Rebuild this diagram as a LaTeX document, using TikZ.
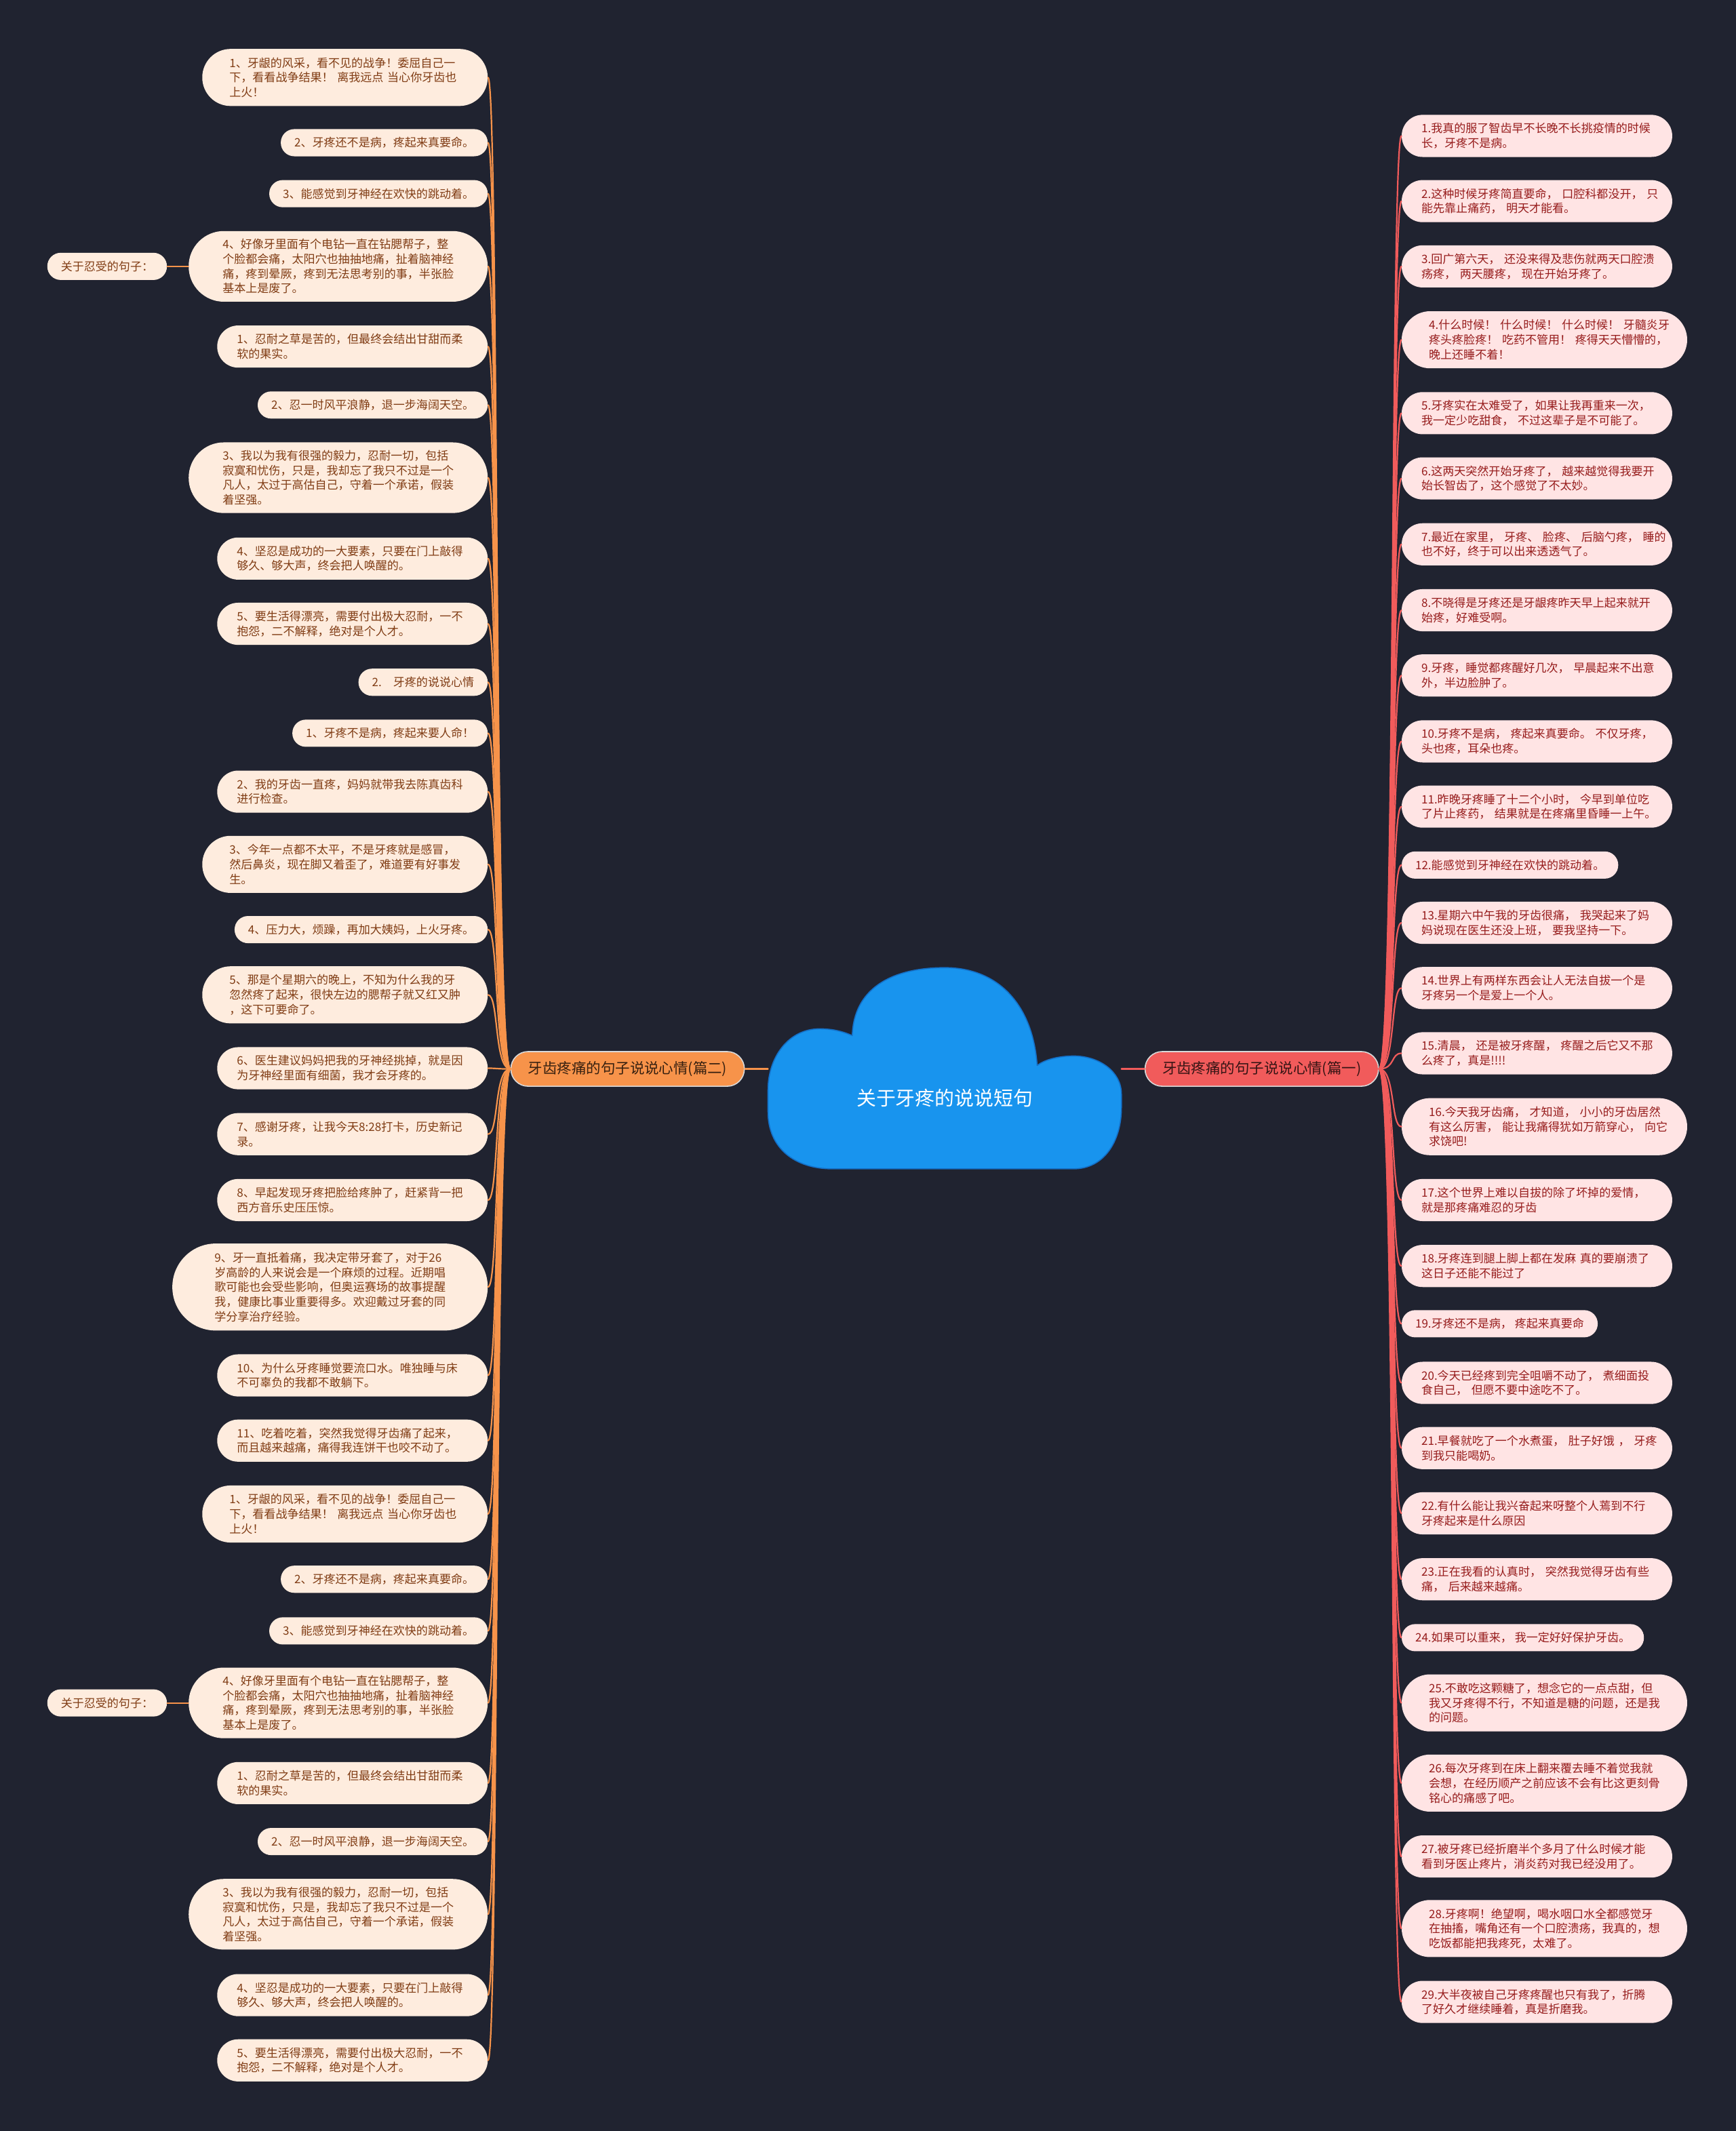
\documentclass[tikz,border=0pt]{standalone}
\usepackage{fontspec}
\newfontfamily\cjk{Noto Sans CJK SC}
\definecolor{bgnavy}{RGB}{32,35,48}
\definecolor{cloudblue}{RGB}{24,148,238}
\definecolor{cloudedge}{RGB}{20,112,200}
\definecolor{trunkorange}{RGB}{247,147,74}
\definecolor{trunkred}{RGB}{241,91,91}
\definecolor{leafpeach}{RGB}{254,236,222}
\definecolor{leafbrown}{RGB}{128,60,20}
\definecolor{leafpink}{RGB}{255,228,228}
\definecolor{leafred}{RGB}{150,28,28}
\begin{document}
\begin{tikzpicture}[x=1pt,y=-1pt,line cap=round,line join=round,
  leafbase/.style={rectangle,inner ysep=0pt,align=left,
    font=\cjk\fontsize{8.5}{10.8}\selectfont},
  lleaf/.style={leafbase,fill=leafpeach,text=leafbrown,anchor=east},
  rleaf/.style={leafbase,fill=leafpink,text=leafred,anchor=west},
  rows1/.style={minimum height=20pt,inner xsep=10pt,rounded corners=9.9pt},
  rows2/.style={minimum height=31pt,text width=170pt,inner xsep=14.5pt,rounded corners=15.4pt},
  rows3/.style={minimum height=42pt,text width=170pt,inner xsep=20pt,rounded corners=20.9pt},
  rows4/.style={minimum height=52pt,text width=170pt,inner xsep=25pt,rounded corners=25.9pt},
  rows5/.style={minimum height=64pt,text width=170pt,inner xsep=31pt,rounded corners=31.9pt},
  trunk/.style={rectangle,minimum height=25.5pt,inner xsep=12.7pt,inner ysep=0pt,
    rounded corners=12.6pt,draw=white!85!black,line width=0.8pt,
    font=\cjk\fontsize{10.7}{12}\selectfont},
  lline/.style={draw=trunkorange,line width=1.1pt},
  rline/.style={draw=trunkred,line width=1.1pt}]
  \useasboundingbox (0,0) rectangle (1277,1568);
  \fill[bgnavy] (0,0) rectangle (1277,1568);

  % centre cloud
  \fill[cloudblue,draw=cloudedge,line width=0.8pt] (612,860) -- (790,860)
    .. controls (812,860) and (825,840) .. (825,815) -- (825,805)
    .. controls (825,788) and (808,777) .. (790,777)
    .. controls (778,777) and (768,780) .. (763,784)
    .. controls (760,740) and (735,712) .. (695,712)
    .. controls (655,712) and (628,728) .. (627,762)
    .. controls (618,758) and (610,757) .. (603,757)
    .. controls (580,757) and (565,778) .. (565,802) -- (565,818)
    .. controls (565,845) and (585,860) .. (612,860) -- cycle;
  \node[text=white,font=\cjk\fontsize{14.4}{16}\selectfont] (root) at (695,808) {关于牙疼的说说短句};
  \coordinate (rootw) at (565,786.5);
  \coordinate (roote) at (825,786.5);

  \node[trunk,fill=trunkorange,text=black!78!trunkorange,anchor=east] (two) at (548,786.5) {牙齿疼痛的句子说说心情(篇二)};
  \node[trunk,fill=trunkred,text=black!78!trunkred,anchor=west] (one) at (842,786.5) {牙齿疼痛的句子说说心情(篇一)};
  \draw[lline] (rootw) -- (two.east);
  \draw[rline] (roote) -- (one.west);

  % left leaves
  \node[lleaf,rows3] (l1) at (359,57) {1、牙龈的风采，看不见的战争！委屈自己一\\下，看看战争结果！~离我远点~当心你牙齿也\\上火！};
  \node[lleaf,rows1] (l2) at (359,105) {2、牙疼还不是病，疼起来真要命。};
  \node[lleaf,rows1] (l3) at (359,142.5) {3、能感觉到牙神经在欢快的跳动着。};
  \node[lleaf,rows4] (l4) at (359,196) {4、好像牙里面有个电钻一直在钻腮帮子，整\\个脸都会痛，太阳穴也抽抽地痛，扯着脑神经\\痛，疼到晕厥，疼到无法思考别的事，半张脸\\基本上是废了。};
  \node[lleaf,rows1] (sideA) at (123,196) {关于忍受的句子：};
  \node[lleaf,rows2] (l5) at (359,255) {1、忍耐之草是苦的，但最终会结出甘甜而柔\\软的果实。};
  \node[lleaf,rows1] (l6) at (359,298) {2、忍一时风平浪静，退一步海阔天空。};
  \node[lleaf,rows4] (l7) at (359,351.5) {3、我以为我有很强的毅力，忍耐一切，包括\\寂寞和忧伤，只是，我却忘了我只不过是一个\\凡人，太过于高估自己，守着一个承诺，假装\\着坚强。};
  \node[lleaf,rows2] (l8) at (359,411) {4、坚忍是成功的一大要素，只要在门上敲得\\够久、够大声，终会把人唤醒的。};
  \node[lleaf,rows2] (l9) at (359,459) {5、要生活得漂亮，需要付出极大忍耐，一不\\抱怨，二不解释，绝对是个人才。};
  \node[lleaf,rows1] (l10) at (359,502) {2.\hspace{1em}牙疼的说说心情};
  \node[lleaf,rows1] (l11) at (359,539.5) {1、牙疼不是病，疼起来要人命！};
  \node[lleaf,rows2] (l12) at (359,582.5) {2、我的牙齿一直疼，妈妈就带我去陈真齿科\\进行检查。};
  \node[lleaf,rows3] (l13) at (359,636) {3、今年一点都不太平，不是牙疼就是感冒，\\然后鼻炎，现在脚又着歪了，难道要有好事发\\生。};
  \node[lleaf,rows1] (l14) at (359,684) {4、压力大，烦躁，再加大姨妈，上火牙疼。};
  \node[lleaf,rows3] (l15) at (359,732) {5、那是个星期六的晚上，不知为什么我的牙\\忽然疼了起来，很快左边的腮帮子就又红又肿\\，这下可要命了。};
  \node[lleaf,rows2] (l16) at (359,786) {6、医生建议妈妈把我的牙神经挑掉，就是因\\为牙神经里面有细菌，我才会牙疼的。};
  \node[lleaf,rows2] (l17) at (359,834.5) {7、感谢牙疼，让我今天8:28打卡，历史新记\\录。};
  \node[lleaf,rows2] (l18) at (359,883) {8、早起发现牙疼把脸给疼肿了，赶紧背一把\\西方音乐史压压惊。};
  \node[lleaf,rows5] (l19) at (359,947) {9、牙一直抵着痛，我决定带牙套了，对于26\\岁高龄的人来说会是一个麻烦的过程。近期唱\\歌可能也会受些影响，但奥运赛场的故事提醒\\我，健康比事业重要得多。欢迎戴过牙套的同\\学分享治疗经验。};
  \node[lleaf,rows2] (l20) at (359,1012) {10、为什么牙疼睡觉要流口水。唯独睡与床\\不可辜负的我都不敢躺下。};
  \node[lleaf,rows2] (l21) at (359,1060) {11、吃着吃着，突然我觉得牙齿痛了起来，\\而且越来越痛，痛得我连饼干也咬不动了。};
  \node[lleaf,rows3] (l22) at (359,1114) {1、牙龈的风采，看不见的战争！委屈自己一\\下，看看战争结果！~离我远点~当心你牙齿也\\上火！};
  \node[lleaf,rows1] (l23) at (359,1162) {2、牙疼还不是病，疼起来真要命。};
  \node[lleaf,rows1] (l24) at (359,1200) {3、能感觉到牙神经在欢快的跳动着。};
  \node[lleaf,rows4] (l25) at (359,1253) {4、好像牙里面有个电钻一直在钻腮帮子，整\\个脸都会痛，太阳穴也抽抽地痛，扯着脑神经\\痛，疼到晕厥，疼到无法思考别的事，半张脸\\基本上是废了。};
  \node[lleaf,rows1] (sideB) at (123,1253) {关于忍受的句子：};
  \node[lleaf,rows2] (l26) at (359,1312) {1、忍耐之草是苦的，但最终会结出甘甜而柔\\软的果实。};
  \node[lleaf,rows1] (l27) at (359,1355) {2、忍一时风平浪静，退一步海阔天空。};
  \node[lleaf,rows4] (l28) at (359,1408.5) {3、我以为我有很强的毅力，忍耐一切，包括\\寂寞和忧伤，只是，我却忘了我只不过是一个\\凡人，太过于高估自己，守着一个承诺，假装\\着坚强。};
  \node[lleaf,rows2] (l29) at (359,1468) {4、坚忍是成功的一大要素，只要在门上敲得\\够久、够大声，终会把人唤醒的。};
  \node[lleaf,rows2] (l30) at (359,1516) {5、要生活得漂亮，需要付出极大忍耐，一不\\抱怨，二不解释，绝对是个人才。};

  % right leaves
  \node[rleaf,rows2] (r1) at (1031,100) {1.我真的服了智齿早不长晚不长挑疫情的时候\\长，牙疼不是病。};
  \node[rleaf,rows2] (r2) at (1031,148) {2.这种时候牙疼简直要命，~口腔科都没开，~只\\能先靠止痛药，~明天才能看。};
  \node[rleaf,rows2] (r3) at (1031,196) {3.回广第六天，~还没来得及悲伤就两天口腔溃\\疡疼，~两天腰疼，~现在开始牙疼了。};
  \node[rleaf,rows3] (r4) at (1031,250) {4.什么时候！~什么时候！~什么时候！~牙髓炎牙\\疼头疼脸疼！~吃药不管用！~疼得天天懵懵的，\\晚上还睡不着！};
  \node[rleaf,rows2] (r5) at (1031,304) {5.牙疼实在太难受了，如果让我再重来一次，\\我一定少吃甜食，~不过这辈子是不可能了。};
  \node[rleaf,rows2] (r6) at (1031,352) {6.这两天突然开始牙疼了，~越来越觉得我要开\\始长智齿了，这个感觉了不太妙。};
  \node[rleaf,rows2] (r7) at (1031,400.5) {7.最近在家里，~牙疼、~脸疼、~后脑勺疼，~睡的\\也不好，终于可以出来透透气了。};
  \node[rleaf,rows2] (r8) at (1031,449) {8.不晓得是牙疼还是牙龈疼昨天早上起来就开\\始疼，好难受啊。};
  \node[rleaf,rows2] (r9) at (1031,497) {9.牙疼，睡觉都疼醒好几次，~早晨起来不出意\\外，半边脸肿了。};
  \node[rleaf,rows2] (r10) at (1031,545.5) {10.牙疼不是病，~疼起来真要命。~不仅牙疼，\\头也疼，耳朵也疼。};
  \node[rleaf,rows2] (r11) at (1031,593.5) {11.昨晚牙疼睡了十二个小时，~今早到单位吃\\了片止疼药，~结果就是在疼痛里昏睡一上午。};
  \node[rleaf,rows1] (r12) at (1031,636.5) {12.能感觉到牙神经在欢快的跳动着。};
  \node[rleaf,rows2] (r13) at (1031,679) {13.星期六中午我的牙齿很痛，~我哭起来了妈\\妈说现在医生还没上班，~要我坚持一下。};
  \node[rleaf,rows2] (r14) at (1031,727) {14.世界上有两样东西会让人无法自拔一个是\\牙疼另一个是爱上一个人。};
  \node[rleaf,rows2] (r15) at (1031,775) {15.清晨，~还是被牙疼醒，~疼醒之后它又不那\\么疼了，真是!!!!};
  \node[rleaf,rows3] (r16) at (1031,829) {16.今天我牙齿痛，~才知道，~小小的牙齿居然\\有这么厉害，~能让我痛得犹如万箭穿心，~向它\\求饶吧!};
  \node[rleaf,rows2] (r17) at (1031,883) {17.这个世界上难以自拔的除了坏掉的爱情，\\就是那疼痛难忍的牙齿};
  \node[rleaf,rows2] (r18) at (1031,931.5) {18.牙疼连到腿上脚上都在发麻~真的要崩溃了\\这日子还能不能过了};
  \node[rleaf,rows1] (r19) at (1031,974) {19.牙疼还不是病，~疼起来真要命};
  \node[rleaf,rows2] (r20) at (1031,1017.5) {20.今天已经疼到完全咀嚼不动了，~煮细面投\\食自己，~但愿不要中途吃不了。};
  \node[rleaf,rows2] (r21) at (1031,1065.5) {21.早餐就吃了一个水煮蛋，~肚子好饿~，~牙疼\\到我只能喝奶。};
  \node[rleaf,rows2] (r22) at (1031,1113.5) {22.有什么能让我兴奋起来呀整个人蔫到不行\\牙疼起来是什么原因};
  \node[rleaf,rows2] (r23) at (1031,1162) {23.正在我看的认真时，~突然我觉得牙齿有些\\痛，~后来越来越痛。};
  \node[rleaf,rows1] (r24) at (1031,1205) {24.如果可以重来，~我一定好好保护牙齿。};
  \node[rleaf,rows3] (r25) at (1031,1253) {25.不敢吃这颗糖了，想念它的一点点甜，但\\我又牙疼得不行，不知道是糖的问题，还是我\\的问题。};
  \node[rleaf,rows3] (r26) at (1031,1312) {26.每次牙疼到在床上翻来覆去睡不着觉我就\\会想，在经历顺产之前应该不会有比这更刻骨\\铭心的痛感了吧。};
  \node[rleaf,rows2] (r27) at (1031,1366) {27.被牙疼已经折磨半个多月了什么时候才能\\看到牙医止疼片，消炎药对我已经没用了。};
  \node[rleaf,rows3] (r28) at (1031,1419) {28.牙疼啊！绝望啊，喝水咽口水全都感觉牙\\在抽搐，嘴角还有一个口腔溃疡，我真的，想\\吃饭都能把我疼死，太难了。};
  \node[rleaf,rows2] (r29) at (1031,1473) {29.大半夜被自己牙疼疼醒也只有我了，折腾\\了好久才继续睡着，真是折磨我。};

  % connectors
  \foreach \i in {1,...,30}
    \draw[lline] (two.west) .. controls +(-12,0) and +(8,0) .. (l\i.east);
  \foreach \i in {1,...,29}
    \draw[rline] (one.east) .. controls +(12,0) and +(-8,0) .. (r\i.west);
  \draw[lline] (sideA.east) -- (l4.west);
  \draw[lline] (sideB.east) -- (l25.west);
\end{tikzpicture}
\end{document}
